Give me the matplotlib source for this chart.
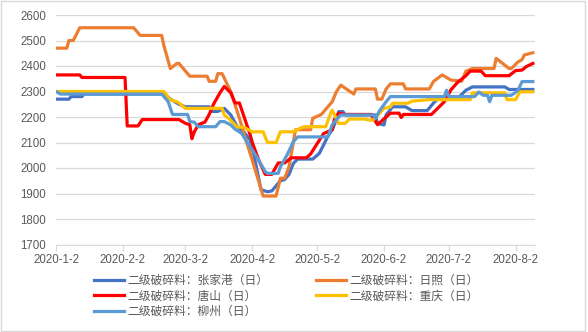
import matplotlib.pyplot as plt
import pandas as pd
from matplotlib.patches import Rectangle

plt.rcParams['font.family'] = ['Liberation Sans', 'Noto Sans CJK SC']

# 二级破碎料价格 (日), values
zjg_dates = ["2020-01-02", "2020-01-08", "2020-01-09", "2020-01-14", "2020-01-15", "2020-02-21",
             "2020-02-24", "2020-02-28", "2020-03-02", "2020-03-13", "2020-03-14", "2020-03-17",
             "2020-03-20", "2020-03-23", "2020-03-26", "2020-03-29", "2020-04-01", "2020-04-03",
             "2020-04-06", "2020-04-09", "2020-04-11", "2020-04-13", "2020-04-15", "2020-04-17",
             "2020-04-19", "2020-04-21", "2020-04-23", "2020-04-30", "2020-05-03", "2020-05-05",
             "2020-05-07", "2020-05-09", "2020-05-11", "2020-05-12", "2020-05-14", "2020-05-15",
             "2020-05-29", "2020-05-30", "2020-06-02", "2020-06-03", "2020-06-06", "2020-06-12",
             "2020-06-15", "2020-06-22", "2020-06-25", "2020-06-28", "2020-07-07", "2020-07-10",
             "2020-07-13", "2020-07-28", "2020-07-30", "2020-08-10"]
zjg_vals = [2270, 2270, 2280, 2280, 2290, 2290,
            2270, 2250, 2240, 2240, 2222, 2222,
            2234, 2208, 2162, 2142, 2110, 2040,
            1915, 1907, 1910, 1930, 1950, 1955,
            1975, 2018, 2035, 2035, 2057, 2090,
            2125, 2150, 2190, 2221, 2221, 2208,
            2208, 2175, 2169, 2208, 2240, 2240,
            2225, 2225, 2255, 2280, 2280, 2305,
            2318, 2318, 2308, 2308]

rz_dates = ["2020-01-02", "2020-01-07", "2020-01-08", "2020-01-10", "2020-01-13", "2020-02-07",
            "2020-02-10", "2020-02-20", "2020-02-21", "2020-02-24", "2020-02-27", "2020-02-28",
            "2020-03-02", "2020-03-04", "2020-03-12", "2020-03-13", "2020-03-16", "2020-03-17",
            "2020-03-19", "2020-03-23", "2020-03-27", "2020-03-30", "2020-04-02", "2020-04-07",
            "2020-04-13", "2020-04-15", "2020-04-17", "2020-04-19", "2020-04-22", "2020-04-29",
            "2020-04-30", "2020-05-04", "2020-05-07", "2020-05-09", "2020-05-11", "2020-05-13",
            "2020-05-19", "2020-05-20", "2020-05-29", "2020-05-30", "2020-06-01", "2020-06-03",
            "2020-06-05", "2020-06-11", "2020-06-12", "2020-06-23", "2020-06-25", "2020-06-29",
            "2020-07-03", "2020-07-08", "2020-07-10", "2020-07-13", "2020-07-23", "2020-07-24",
            "2020-07-27", "2020-07-30", "2020-07-31", "2020-08-03", "2020-08-05", "2020-08-06",
            "2020-08-10"]
rz_vals = [2470, 2470, 2500, 2500, 2550, 2550,
           2520, 2520, 2480, 2390, 2410, 2410,
           2380, 2360, 2360, 2340, 2340, 2370,
           2370, 2300, 2195, 2110, 2030, 1890,
           1890, 1960, 1960, 2005, 2150, 2150,
           2195, 2210, 2240, 2260, 2300, 2325,
           2290, 2310, 2310, 2270, 2270, 2310,
           2330, 2330, 2310, 2310, 2340, 2365,
           2345, 2340, 2380, 2390, 2390, 2430,
           2410, 2390, 2390, 2415, 2425, 2443,
           2452]

ts_dates = ["2020-01-02", "2020-01-13", "2020-01-14", "2020-02-03", "2020-02-04", "2020-02-09",
            "2020-02-11", "2020-02-28", "2020-03-02", "2020-03-04", "2020-03-05", "2020-03-06",
            "2020-03-08", "2020-03-11", "2020-03-13", "2020-03-15", "2020-03-18", "2020-03-20",
            "2020-03-23", "2020-03-25", "2020-03-27", "2020-03-29", "2020-04-01", "2020-04-02",
            "2020-04-05", "2020-04-08", "2020-04-11", "2020-04-14", "2020-04-17", "2020-04-20",
            "2020-04-27", "2020-04-29", "2020-05-02", "2020-05-05", "2020-05-09", "2020-05-10",
            "2020-05-12", "2020-05-15", "2020-05-27", "2020-05-30", "2020-06-01", "2020-06-05",
            "2020-06-09", "2020-06-10", "2020-06-11", "2020-06-24", "2020-06-30", "2020-07-03",
            "2020-07-06", "2020-07-10", "2020-07-12", "2020-07-17", "2020-07-19", "2020-07-30",
            "2020-08-02", "2020-08-05", "2020-08-07", "2020-08-10"]
ts_vals = [2365, 2365, 2355, 2355, 2165, 2165,
           2190, 2190, 2175, 2170, 2115, 2140,
           2170, 2180, 2210, 2250, 2295, 2320,
           2295, 2255, 2255, 2205, 2130, 2100,
           2030, 1975, 1975, 2020, 2020, 2040,
           2040, 2055, 2095, 2135, 2150, 2190,
           2215, 2210, 2210, 2170, 2185, 2215,
           2215, 2198, 2210, 2210, 2260, 2306,
           2335, 2362, 2380, 2380, 2362, 2362,
           2382, 2384, 2398, 2410]

cq_dates = ["2020-01-02", "2020-02-21", "2020-02-24", "2020-02-27", "2020-02-28", "2020-03-02",
            "2020-03-19", "2020-03-20", "2020-03-22", "2020-03-25", "2020-03-26", "2020-03-29",
            "2020-04-02", "2020-04-07", "2020-04-09", "2020-04-13", "2020-04-15", "2020-04-21",
            "2020-04-24", "2020-04-26", "2020-05-06", "2020-05-08", "2020-05-09", "2020-05-12",
            "2020-05-15", "2020-05-17", "2020-05-24", "2020-05-26", "2020-05-28", "2020-06-02",
            "2020-06-05", "2020-06-06", "2020-06-13", "2020-06-15", "2020-06-23", "2020-07-12",
            "2020-07-13", "2020-07-28", "2020-07-29", "2020-08-02", "2020-08-04", "2020-08-10"]
cq_vals = [2300, 2300, 2267, 2260, 2255, 2234,
           2234, 2208, 2195, 2169, 2160, 2160,
           2142, 2142, 2100, 2100, 2142, 2142,
           2155, 2162, 2162, 2208, 2227, 2175,
           2175, 2192, 2192, 2188, 2188, 2234,
           2240, 2254, 2254, 2262, 2268, 2268,
           2295, 2295, 2268, 2268, 2299, 2299]

lz_dates = ["2020-01-02", "2020-01-04", "2020-02-20", "2020-02-23", "2020-02-25", "2020-03-03",
            "2020-03-04", "2020-03-06", "2020-03-08", "2020-03-16", "2020-03-18", "2020-03-20",
            "2020-03-23", "2020-03-25", "2020-03-28", "2020-04-01", "2020-04-04", "2020-04-08",
            "2020-04-09", "2020-04-14", "2020-04-15", "2020-04-18", "2020-04-21", "2020-04-23",
            "2020-05-07", "2020-05-09", "2020-05-11", "2020-05-13", "2020-05-28", "2020-05-29",
            "2020-05-31", "2020-06-03", "2020-06-05", "2020-06-30", "2020-07-01", "2020-07-02",
            "2020-07-14", "2020-07-16", "2020-07-18", "2020-07-20", "2020-07-21", "2020-07-22",
            "2020-07-31", "2020-08-03", "2020-08-05", "2020-08-10"]
lz_vals = [2300, 2290, 2290, 2260, 2210, 2210,
           2182, 2180, 2162, 2162, 2182, 2182,
           2169, 2152, 2136, 2083, 2044, 1986,
           1979, 1979, 2005, 2050, 2103, 2122,
           2122, 2169, 2190, 2208, 2208, 2195,
           2225, 2260, 2280, 2280, 2305, 2280,
           2280, 2298, 2285, 2285, 2260, 2285,
           2285, 2303, 2339, 2339]

tick_labels = ["2020-1-2", "2020-2-2", "2020-3-2", "2020-4-2",
               "2020-5-2", "2020-6-2", "2020-7-2", "2020-8-2"]

fig = plt.figure(figsize=(5.88, 3.32), dpi=100)
ax = fig.add_axes([56 / 588, 1 - 244.5 / 332, (535 - 56) / 588, (244.5 - 15) / 332])

lw = 2.3
l_zjg, = ax.plot(pd.to_datetime(zjg_dates), zjg_vals, color="#4472C4", lw=lw, label="二级破碎料：张家港（日）")
l_rz, = ax.plot(pd.to_datetime(rz_dates), rz_vals, color="#ED7D31", lw=lw, label="二级破碎料：日照（日）")
l_ts, = ax.plot(pd.to_datetime(ts_dates), ts_vals, color="#FF0000", lw=lw, label="二级破碎料：唐山（日）")
l_cq, = ax.plot(pd.to_datetime(cq_dates), cq_vals, color="#FFC000", lw=lw, label="二级破碎料：重庆（日）")
l_lz, = ax.plot(pd.to_datetime(lz_dates), lz_vals, color="#5B9BD5", lw=lw, label="二级破碎料：柳州（日）")

ax.set_ylim(1700, 2600)
ax.set_yticks(range(1700, 2601, 100))
ax.set_xlim(pd.Timestamp("2020-01-02"), pd.Timestamp("2020-08-11"))
ax.set_xticks(pd.to_datetime(tick_labels, format="%Y-%m-%d"))
ax.set_xticklabels(tick_labels)

ax.grid(axis="y", color="#d9d9d9", lw=0.9)
ax.set_axisbelow(True)
for s in ["top", "right", "left"]:
    ax.spines[s].set_visible(False)
ax.spines["bottom"].set_color("#d9d9d9")
ax.tick_params(axis="y", length=0, pad=7, labelsize=8.3, labelcolor="#595959")
ax.tick_params(axis="x", length=4, color="#d9d9d9", pad=3, labelsize=8.3, labelcolor="#595959")

fig.legend(handles=[l_zjg, l_ts, l_lz, l_rz, l_cq], ncol=2, loc="upper left",
           bbox_to_anchor=(94 / 588, 1 - 275 / 332), frameon=False, fontsize=8.5,
           labelcolor="#595959", handlelength=2.5, handletextpad=0.3,
           columnspacing=4.1, labelspacing=0.3, borderaxespad=0, borderpad=0)

fig.patches.append(Rectangle((1 / 588, 1 - 330.5 / 332), 584 / 588, 329.5 / 332,
                             transform=fig.transFigure, fill=False, edgecolor="#d9d9d9", lw=1))

fig.savefig("out.png", dpi=100)
